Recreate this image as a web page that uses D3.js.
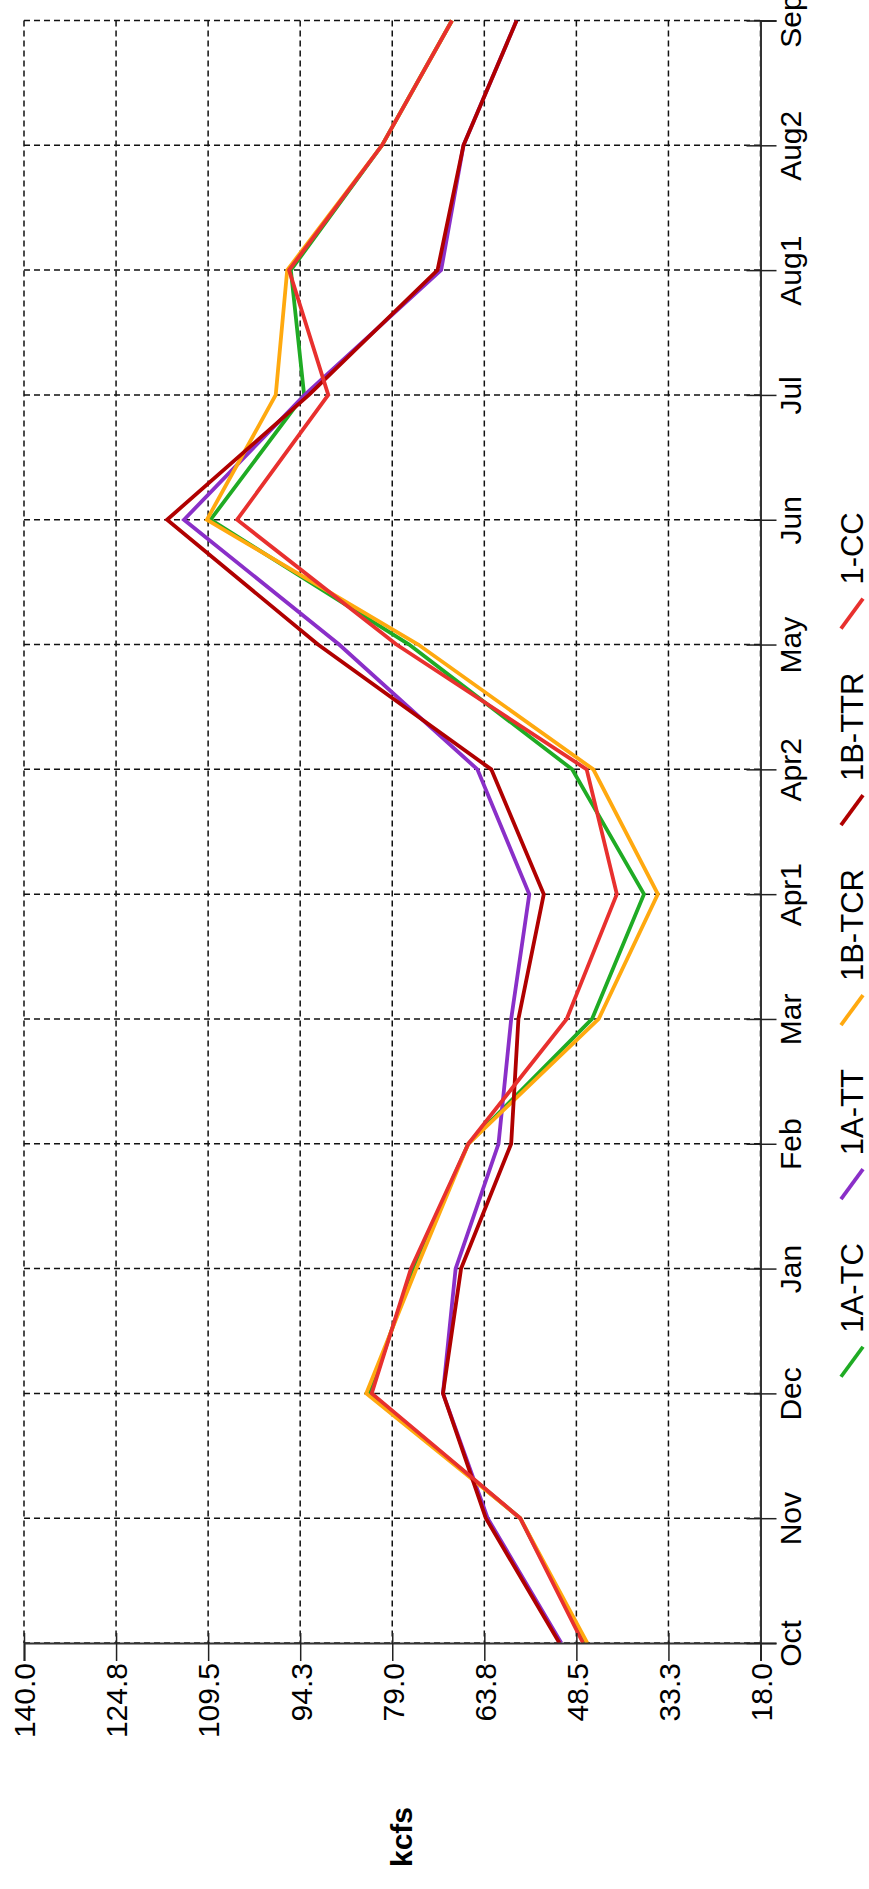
<!DOCTYPE html>
<html>
<head>
<meta charset="utf-8">
<script src="https://cdn.jsdelivr.net/npm/d3@7"></script>
<style>
  body { margin: 0; background: #fff; }
  svg { display: block; font-family: 'Liberation Sans', Arial, sans-serif; }
  .grid line { stroke: #111; stroke-width: 1.5; stroke-dasharray: 6,4; }
  .axis path.domain { stroke: #333; stroke-width: 2; }
  .axis line { stroke: #222; stroke-width: 1.5; }
  .axis text { fill: #000; font-size: 30px; }
  .series { fill: none; stroke-width: 3.8; stroke-linejoin: miter; }
</style>
</head>
<body>
<div id="chart"></div>
<script>
const months = ['Oct','Nov','Dec','Jan','Feb','Mar','Apr1','Apr2','May','Jun','Jul','Aug1','Aug2','Sep'];
const valueTicks = [18, 33.25, 48.5, 63.75, 79, 94.25, 109.5, 124.75, 140];

const names = ['1A-TC','1A-TT','1B-TCR','1B-TTR','1-CC'];
const colors = ['#1fab24','#8a2fc8','#ffa90f','#b00000','#e8302e'];

const tc1a  = [47.1, 57.8, 82.7, 75.6, 66.4, 45.9, 37.3, 49.2, 76.2, 109.1, 93.6, 95.8, 80.7, 69.1];
const tt1a  = [51.0, 63.2, 70.6, 68.5, 61.4, 59.3, 56.3, 64.9, 87.8, 113.5, 93.5, 70.9, 67.2, 58.4];
const tcr1b = [46.7, 57.8, 83.3, 75.0, 66.4, 44.8, 35.0, 45.7, 74.7, 109.7, 98.3, 96.4, 80.7, 69.1];
const ttr1b = [51.3, 63.5, 70.6, 67.6, 59.3, 58.1, 53.9, 62.6, 91.3, 116.3, 92.8, 71.5, 67.2, 58.4];
const cc1   = [47.4, 57.8, 82.4, 75.9, 66.4, 50.1, 41.8, 46.8, 78.3, 104.7, 89.6, 96.1, 80.7, 69.1];

const series = [tc1a, tt1a, tcr1b, ttr1b, cc1].map((vals, i) => ({
  name: names[i], color: colors[i],
  values: vals.map((v, j) => ({month: months[j], kcfs: v}))
}));

const W = 869, H = 1889;
const margin = {left: 24, right: 760.5, top: 20.5, bottom: 1643};

const svg = d3.select('#chart').append('svg')
  .attr('width', W)
  .attr('height', H);

// chart is drawn turned a quarter turn: kcfs runs across, months run up
const x = d3.scaleLinear().domain([18, 140]).range([margin.right, margin.left]);
const y = d3.scalePoint().domain(months).range([margin.bottom, margin.top]);

const grid = svg.append('g').attr('class', 'grid');
grid.selectAll('.gv')
  .data(valueTicks)
  .join('line')
  .attr('class', 'gv')
  .attr('x1', d => x(d)).attr('x2', d => x(d))
  .attr('y1', margin.top).attr('y2', margin.bottom);
grid.selectAll('.gh')
  .data(months)
  .join('line')
  .attr('class', 'gh')
  .attr('x1', margin.left).attr('x2', margin.right)
  .attr('y1', d => y(d)).attr('y2', d => y(d));

const line = d3.line()
  .x(d => x(d.kcfs))
  .y(d => y(d.month));

svg.append('g')
  .selectAll('path')
  .data(series)
  .join('path')
  .attr('class', 'series')
  .attr('stroke', d => d.color)
  .attr('d', d => line(d.values));

// value axis along the bottom
const gx = svg.append('g')
  .attr('class', 'axis')
  .attr('transform', `translate(0, ${margin.bottom})`)
  .call(d3.axisBottom(x).tickValues(valueTicks).tickFormat(d3.format('.1f')).tickSizeOuter(0).tickSize(18));
gx.selectAll('.tick line').attr('y1', -10);
gx.selectAll('.tick text')
  .attr('transform', 'rotate(-90)')
  .attr('text-anchor', 'end')
  .attr('x', -20)
  .attr('y', 0)
  .attr('dy', '0.36em');

// month axis on the right
const gy = svg.append('g')
  .attr('class', 'axis')
  .attr('transform', `translate(${margin.right}, 0)`)
  .call(d3.axisRight(y).tickSizeOuter(0).tickSize(16));
gy.selectAll('.tick line').attr('x1', -14);
gy.selectAll('.tick text')
  .attr('transform', 'rotate(-90)')
  .attr('text-anchor', 'middle')
  .attr('x', 0)
  .attr('y', 40)
  .attr('dy', 0);

svg.append('text')
  .attr('transform', `translate(${(margin.left + margin.right) / 2 + 9}, ${H - 52}) rotate(-90)`)
  .attr('text-anchor', 'middle')
  .attr('dy', '0.36em')
  .attr('font-size', 30)
  .attr('font-weight', 'bold')
  .text('kcfs');

// legend, read bottom to top
const legend = svg.append('g')
  .attr('transform', `translate(863, ${H / 2}) rotate(-90)`);
const fontSize = 31, slashW = 30, gapA = 14, gapB = 44;
const tmp = legend.append('text').attr('font-size', fontSize);
const widths = names.map(n => { tmp.text(n); return tmp.node().getComputedTextLength(); });
tmp.remove();
const total = d3.sum(widths) + names.length * (slashW + gapA) + (names.length - 1) * gapB;
let pos = -total / 2;
series.forEach((s, i) => {
  legend.append('line')
    .attr('x1', pos).attr('y1', -22)
    .attr('x2', pos + slashW).attr('y2', 0)
    .attr('stroke', s.color)
    .attr('stroke-width', 3.8);
  legend.append('text')
    .attr('x', pos + slashW + gapA)
    .attr('y', 0)
    .attr('font-size', fontSize)
    .text(s.name);
  pos += slashW + gapA + widths[i] + gapB;
});
</script>
</body>
</html>
